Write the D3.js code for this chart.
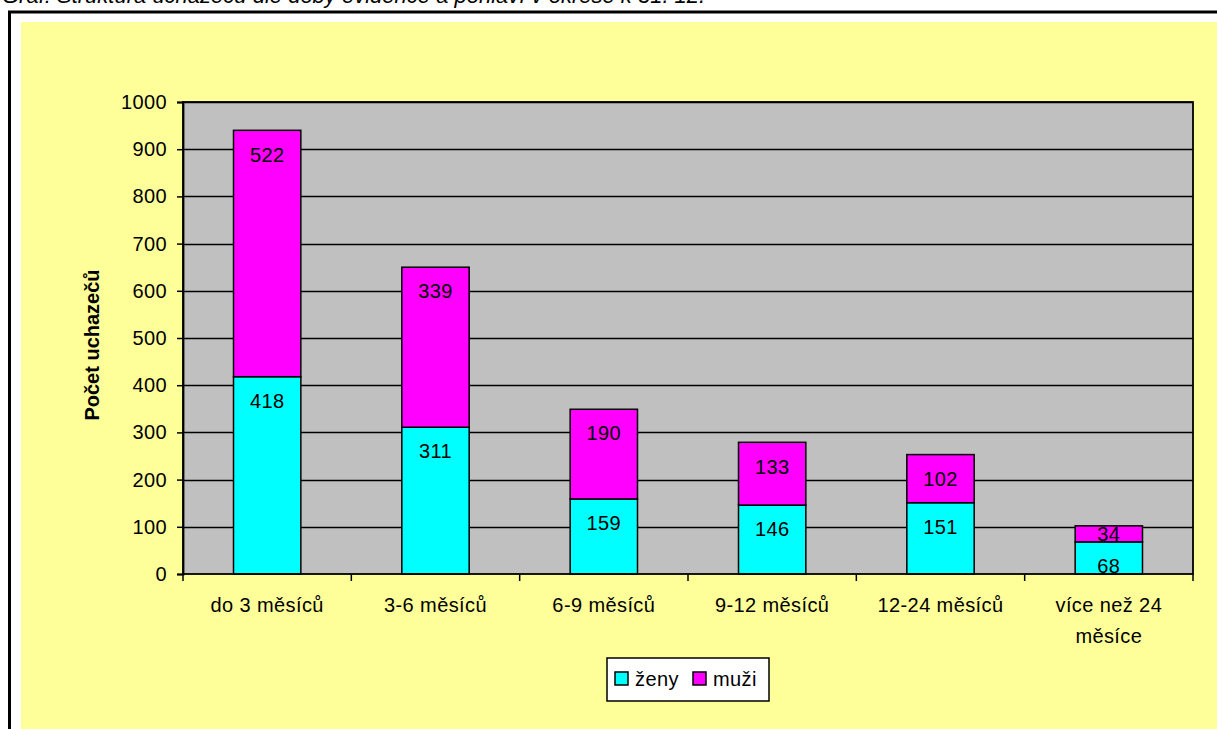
<!DOCTYPE html>
<html>
<head>
<meta charset="utf-8">
<script src="https://cdn.jsdelivr.net/npm/d3@7"></script>
<style>
  body { margin: 0; background: #fff; }
  svg { display: block; font-family: Arial, 'Liberation Sans', sans-serif; }
</style>
</head>
<body>
<svg id="chart" width="1217" height="729"></svg>
<script>
//

const categories = [
  'do 3 měsíců',
  '3-6 měsíců',
  '6-9 měsíců',
  '9-12 měsíců',
  '12-24 měsíců',
  'více než 24 měsíce'
]

const zeny = [418, 311, 159, 146, 151, 68]
const muzi = [522, 339, 190, 133, 102, 34]

const seriesNames = ['ženy', 'muži']
const seriesColors = ['#00ffff', '#ff00ff']

const yTicks = [0, 100, 200, 300, 400, 500, 600, 700, 800, 900, 1000]

//

const svg = d3.select('#chart')

// title line, mostly cut off by the top edge like in the source
svg.append('text')
  .attr('x', 2)
  .attr('y', 3)
  .attr('font-size', 22)
  .attr('font-style', 'italic')
  .attr('fill', '#000')
  .text('Graf: Struktura uchazečů dle doby evidence a pohlaví v okrese k 31. 12.')

// frame
svg.append('rect')
  .attr('x', 9.5).attr('y', 12)
  .attr('width', 1230).attr('height', 740)
  .attr('fill', '#fff')
  .attr('stroke', '#000')
  .attr('stroke-width', 3)

svg.append('rect')
  .attr('x', 21).attr('y', 22)
  .attr('width', 1196).attr('height', 707)
  .attr('fill', '#ffff99')

//

const plot = { left: 183, right: 1193, top: 102, bottom: 574 }

const x = d3.scaleBand()
  .domain(categories)
  .range([plot.left, plot.right])
  .paddingInner(0.6)
  .paddingOuter(0.3)

const y = d3.scaleLinear()
  .domain([0, 1000])
  .range([plot.bottom, plot.top])

svg.append('rect')
  .attr('x', plot.left).attr('y', plot.top)
  .attr('width', plot.right - plot.left)
  .attr('height', plot.bottom - plot.top)
  .attr('fill', '#c0c0c0')

// gridlines
svg.append('g')
  .selectAll('line')
  .data(yTicks.filter((t) => t > 0))
  .join('line')
  .attr('x1', plot.left).attr('x2', plot.right)
  .attr('y1', (d) => Math.round(y(d)) + 0.5)
  .attr('y2', (d) => Math.round(y(d)) + 0.5)
  .attr('stroke', '#000')
  .attr('stroke-width', 1.4)

// stacked bars
const rows = categories.map((c, i) => ({ cat: c, 'ženy': zeny[i], 'muži': muzi[i] }))
const stacked = d3.stack().keys(seriesNames)(rows)

const layers = svg.append('g')
  .selectAll('g')
  .data(stacked)
  .join('g')
  .attr('fill', (d, i) => seriesColors[i])

layers.selectAll('rect')
  .data((d) => d)
  .join('rect')
  .attr('x', (d) => x(d.data.cat))
  .attr('y', (d) => y(d[1]))
  .attr('width', x.bandwidth())
  .attr('height', (d) => y(d[0]) - y(d[1]))
  .attr('stroke', '#000')
  .attr('stroke-width', 1.5)

// value labels
layers.selectAll('text')
  .data((d) => d.map((v) => ({ v, key: d.key })))
  .join('text')
  .attr('x', (d) => x(d.v.data.cat) + x.bandwidth() / 2)
  .attr('y', (d) => {
    const top = y(d.v[1])
    const bottom = y(d.v[0])
    let cy = top + 24
    if (cy > bottom - 2) cy = (top + bottom) / 2
    return cy
  })
  .attr('dy', '0.36em')
  .attr('text-anchor', 'middle')
  .attr('font-size', 20)
  .attr('letter-spacing', 0.4)
  .attr('fill', '#000')
  .text((d) => d.v.data[d.key])

// plot border
svg.append('rect')
  .attr('x', plot.left).attr('y', plot.top)
  .attr('width', plot.right - plot.left)
  .attr('height', plot.bottom - plot.top)
  .attr('fill', 'none')
  .attr('stroke', '#000')
  .attr('stroke-width', 1.8)

//

const yAxis = d3.axisLeft(y)
  .tickValues(yTicks)
  .tickFormat(d3.format('d'))
  .tickSize(6)
  .tickPadding(10)

svg.append('g')
  .attr('transform', `translate(${plot.left},0)`)
  .call(yAxis)
  .call((g) => g.select('.domain').attr('stroke-width', 1.8))
  .call((g) => g.selectAll('.tick line').attr('stroke-width', 1.5))
  .call((g) => g.selectAll('text')
    .attr('font-size', 20)
    .attr('letter-spacing', 0.4)
    .attr('font-family', 'Arial, Liberation Sans, sans-serif')
    .attr('fill', '#000'))

const bounds = [plot.left].concat(categories.map((c) => x(c) + x.bandwidth() / 2 + x.step() / 2))

svg.append('g')
  .selectAll('line')
  .data(bounds)
  .join('line')
  .attr('x1', (d) => d).attr('x2', (d) => d)
  .attr('y1', plot.bottom).attr('y2', plot.bottom + 7)
  .attr('stroke', '#000')
  .attr('stroke-width', 1.5)

const catLabels = svg.append('g')
  .selectAll('text')
  .data(categories)
  .join('text')
  .attr('x', (d) => x(d) + x.bandwidth() / 2)
  .attr('y', 612)
  .attr('text-anchor', 'middle')
  .attr('font-size', 20)
  .attr('letter-spacing', 0.4)
  .attr('fill', '#000')

catLabels.each(function (d) {
  const t = d3.select(this)
  const lines = d === 'více než 24 měsíce' ? ['více než 24', 'měsíce'] : [d]
  lines.forEach((l, i) => {
    t.append('tspan')
      .attr('x', x(d) + x.bandwidth() / 2)
      .attr('dy', i === 0 ? 0 : 31)
      .text(l)
  })
})

svg.append('text')
  .attr('transform', 'translate(99,345) rotate(-90)')
  .attr('text-anchor', 'middle')
  .attr('font-size', 20)
  .attr('font-weight', 'bold')
  .attr('fill', '#000')
  .text('Počet uchazečů')

//

const legend = svg.append('g')

legend.append('rect')
  .attr('x', 607).attr('y', 658)
  .attr('width', 162).attr('height', 43)
  .attr('fill', '#fff')
  .attr('stroke', '#000')
  .attr('stroke-width', 1.5)

const legendX = [615, 693]

seriesNames.forEach((name, i) => {
  legend.append('rect')
    .attr('x', legendX[i]).attr('y', 672)
    .attr('width', 13).attr('height', 13)
    .attr('fill', seriesColors[i])
    .attr('stroke', '#000')
    .attr('stroke-width', 1.5)
  legend.append('text')
    .attr('x', legendX[i] + 20)
    .attr('y', 686)
    .attr('font-size', 20)
    .attr('letter-spacing', 0.4)
    .attr('fill', '#000')
    .text(name)
})
</script>
</body>
</html>
